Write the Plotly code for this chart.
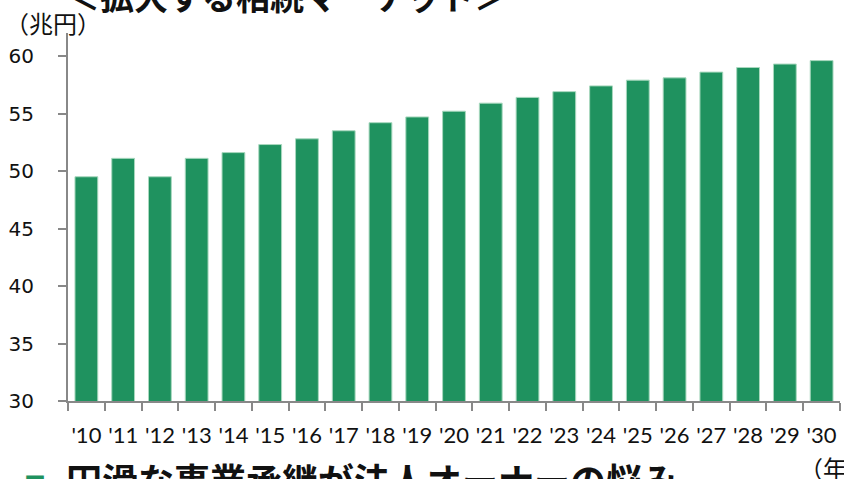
import plotly.graph_objects as go

years = ["'10", "'11", "'12", "'13", "'14", "'15", "'16", "'17", "'18", "'19", "'20",
         "'21", "'22", "'23", "'24", "'25", "'26", "'27", "'28", "'29", "'30"]
values = [49.5, 51.1, 49.5, 51.1, 51.6, 52.3, 52.8, 53.5, 54.2, 54.7, 55.2,
          55.9, 56.4, 56.9, 57.4, 57.9, 58.1, 58.6, 59.0, 59.3, 59.6]
y_ticks = [30, 35, 40, 45, 50, 55, 60]

title_text = "＜拡大する相続マーケット＞"
unit_text = "（兆円）"
year_text = "（年）"
bottom_text = "円滑な事業承継が法人オーナーの悩み"

GREEN = "#1F925F"
AXIS = "#888888"
JP = "Noto Sans CJK JP"

fig = go.Figure(go.Bar(
    x=years, y=values,
    marker=dict(color=GREEN, line=dict(color="#A8D8BE", width=1)),
))

L, T = 68, 33
fig.update_layout(
    width=844, height=479,
    margin=dict(l=L, r=4, t=T, b=78),
    plot_bgcolor="white", paper_bgcolor="white",
    bargap=0.38,
    showlegend=False,
    xaxis=dict(
        showline=True, linecolor=AXIS, linewidth=2,
        ticks="outside", tickson="boundaries", ticklen=8, tickcolor=AXIS, tickwidth=2,
        tickfont=dict(family="Lato", size=22, color="#111111"),
        tickangle=0, automargin=False,
        ticklabelstandoff=14,
        showgrid=False, zeroline=False,
    ),
    yaxis=dict(
        range=[30, 62], tickvals=y_ticks,
        showline=True, linecolor=AXIS, linewidth=2,
        ticks="outside", ticklen=8, tickcolor=AXIS, tickwidth=2,
        tickfont=dict(family="DejaVu Sans", size=20, color="#111111"),
        ticklabelstandoff=20, automargin=False,
        showgrid=False, zeroline=False,
    ),
)

def ann(text, px, py, size, color="#111111", bold=False, anchor="left"):
    # px, py: pixel positions (left edge / vertical center) in the page
    t = f"<b>{text}</b>" if bold else text
    fig.add_annotation(
        text=t, xref="paper", yref="paper", x=0, y=1,
        xanchor=anchor, yanchor="middle",
        xshift=px - L, yshift=T - py,
        showarrow=False,
        font=dict(family=JP, size=size, color=color),
    )

ann(title_text, 64, -5, 34, bold=True)
ann(unit_text, 3, 22, 24)
ann(bottom_text, 64, 479, 36, bold=True)
ann("■", 22, 482, 22, color=GREEN)
ann(year_text, 797, 467, 24)

fig.write_html("out.html", config={"displayModeBar": False},
               post_script="document.body.style.margin='0px';")
